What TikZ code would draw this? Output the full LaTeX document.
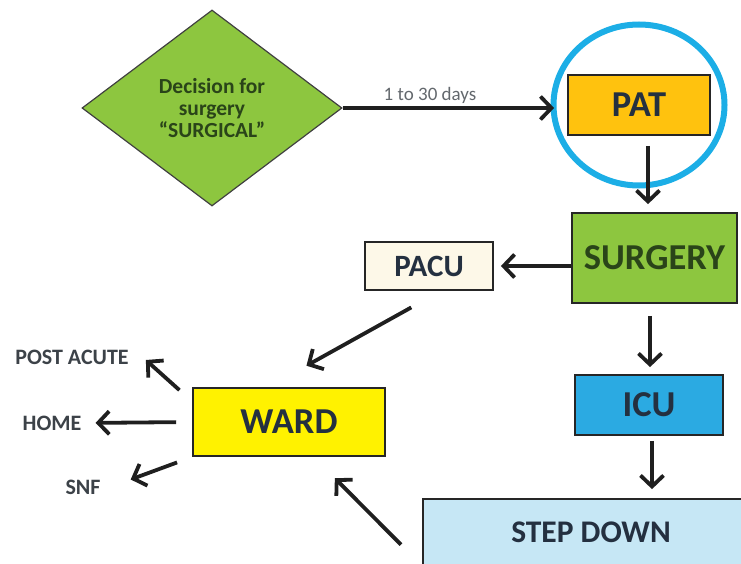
\documentclass[tikz,border=0pt]{standalone}
\usepackage{fontspec}
\setmainfont{Carlito}
\usetikzlibrary{positioning,shapes.geometric,arrows.meta}

\definecolor{decisionGreen}{HTML}{8DC63F}
\definecolor{decisionText}{HTML}{2A4419}
\definecolor{patOrange}{HTML}{FFC20E}
\definecolor{ringBlue}{HTML}{1CAEE6}
\definecolor{pacuCream}{HTML}{FDF8E8}
\definecolor{wardYellow}{HTML}{FFF200}
\definecolor{icuBlue}{HTML}{2BAAE2}
\definecolor{stepBlue}{HTML}{C6E7F5}
\definecolor{boxText}{HTML}{243040}
\definecolor{labelGrey}{HTML}{3C4248}

\begin{document}
\begin{tikzpicture}[x=1pt,y=-1pt]
		\tikzstyle{unit} = [rectangle, text centered, draw=black!85, line width=1.8pt, inner sep=0pt, text=boxText, font=\fontsize{36.5}{38}\selectfont\bfseries]
		\tikzstyle{outcome} = [inner sep=1pt, text=labelGrey, font=\fontsize{22}{23}\selectfont\bfseries]
		\tikzstyle{flow} = [line width=3.8pt, draw=black!88, -{Straight Barb[length=11pt,width=23pt]}]

		\useasboundingbox (0,0) rectangle (741,564);

		\node (decision) [diamond, draw=black!75, line width=1.2pt, fill=decisionGreen, minimum width=260pt, minimum height=196pt, inner sep=0pt, align=center, text=decisionText, font=\fontsize{21.5}{22}\selectfont\bfseries] at (212,108) {Decision for\\surgery\\“SURGICAL”};

		\node (pat) [unit, fill=patOrange, minimum width=142pt, minimum height=60pt] at (639,105) {PAT};
		\node (patRing) [ellipse, draw=ringBlue, line width=6pt, minimum width=171pt, minimum height=161pt] at (pat) {};

		\node (surgery) [unit, fill=decisionGreen, minimum width=165pt, minimum height=90pt, text=decisionText] at (654.5,258) {SURGERY};
		\node (pacu) [unit, fill=pacuCream, minimum width=128pt, minimum height=48pt, font=\fontsize{31}{33}\selectfont\bfseries] at (429,266) {PACU};
		\node (icu) [unit, fill=icuBlue, minimum width=148pt, minimum height=60pt] at (649,405) {ICU};
		\node (stepDown) [unit, fill=stepBlue, minimum width=336pt, minimum height=66pt, font=\fontsize{31.5}{33}\selectfont\bfseries] at (591,532) {STEP DOWN};
		\node (ward) [unit, fill=wardYellow, minimum width=192pt, minimum height=68pt] at (289,422) {WARD};

		\node (postAcute) [outcome] at (72,357) {POST ACUTE};
		\node (home) [outcome] at (52,423) {HOME};
		\node (snf) [outcome] at (83,487) {SNF};

		\draw [flow, shorten >=13pt] (decision.east) -- (decision.east -| pat.west);
		\node (delayLabel) [text=labelGrey!80, font=\fontsize{19}{20}\selectfont] at (430,95) {1 to 30 days};

		\draw [flow, shorten <=10pt, shorten >=8pt] ([xshift=9pt]pat.south) -- ([xshift=-6.5pt]surgery.north);
		\draw [flow, shorten >=7pt] (surgery.west |- pacu.east) -- (pacu.east);
		\draw [flow, shorten <=12pt, shorten >=7pt] ([xshift=-4.5pt]surgery.south) -- ([xshift=1pt]icu.north);
		\draw [flow, shorten <=5pt, shorten >=9pt] ([xshift=3pt]icu.south) -- ([xshift=61pt]stepDown.north);

		\draw [flow, shorten <=34pt, shorten >=44pt] ([xshift=12pt]pacu.south) -- ([xshift=-21pt]ward.north);
		\draw [flow, shorten <=30pt, shorten >=30pt] (stepDown.south west) -- ([xshift=24.7pt]ward.south);

		\draw [flow, shorten <=17pt] ([yshift=20.5pt]ward.west) -- ([xshift=16pt,yshift=-3pt]postAcute.east);
		\draw [flow, shorten <=16pt, shorten >=13pt] (ward.west) -- (home.east);
		\draw [flow, shorten <=16pt] (ward.south west) -- ([xshift=29pt,yshift=-1pt]snf.north east);
\end{tikzpicture}
\end{document}
